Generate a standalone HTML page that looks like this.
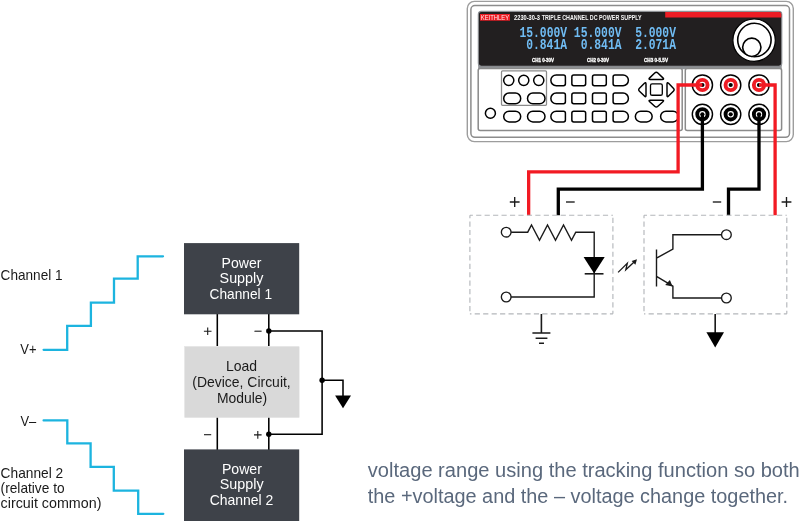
<!DOCTYPE html>
<html lang="en">
<head>
<meta charset="utf-8">
<title>Tracking power supply diagram</title>
<style>
html,body{margin:0;padding:0;background:#fff;}
body{width:800px;height:521px;overflow:hidden;position:relative;font-family:"Liberation Sans",sans-serif;}
svg{position:absolute;left:0;top:0;display:block;will-change:transform;}
text{font-family:"Liberation Sans",sans-serif;}
.mono{font-family:"Liberation Mono",monospace;white-space:pre;}
.btn{fill:#fff;stroke:#000;stroke-width:1.5;}
.ckt{fill:none;stroke:#1a1a1a;stroke-width:1.4;stroke-linejoin:miter;}
.dash{fill:none;stroke:#b4b7bb;stroke-width:1.15;stroke-dasharray:5.2 3.25;}
.wr{fill:none;stroke:#f21a23;stroke-width:3.3;stroke-linejoin:miter;}
.wk{fill:none;stroke:#000;stroke-width:3.3;stroke-linejoin:miter;}
.blk{fill:none;stroke:#000;stroke-width:1.55;}
.stair{fill:none;stroke:#1cb4df;stroke-width:2.3;stroke-linecap:round;stroke-linejoin:miter;}
</style>
</head>
<body>
<svg width="800" height="521" viewBox="0 0 800 521">
<rect x="0" y="0" width="800" height="521" fill="#fff"/>

<!-- ============ INSTRUMENT ============ -->
<g id="instrument">
  <rect x="467.3" y="1.4" width="326" height="140.2" rx="7" ry="7" fill="#fff" stroke="#9d9d9d" stroke-width="1.4"/>
  <rect x="470.9" y="5.6" width="318.6" height="131.7" rx="4" ry="4" fill="#fff" stroke="#8c8c8c" stroke-width="1.5"/>
  <!-- display -->
  <rect x="478.2" y="65" width="303.5" height="4.2" fill="#8e9195"/>
  <rect x="478.3" y="11.4" width="303.5" height="54.8" rx="3" ry="3" fill="#221f20" stroke="#8e9195" stroke-width="1.1"/>
  <path d="M665.2 11.9 H778.8 Q781.3 11.9 781.3 14.4 V17.5 H665.2 Z" fill="#ed1c24"/>
  <rect x="480" y="14" width="30" height="6.7" fill="#ed1c24"/>
  <text x="480.8" y="19.9" font-size="6.9" font-weight="400" fill="#ffe9ea" textLength="28.4" lengthAdjust="spacingAndGlyphs">KEITHLEY</text>
  <text x="514.1" y="19.8" font-size="6.8" font-weight="700" fill="#fff" textLength="25.9" lengthAdjust="spacingAndGlyphs">2230-30-3</text>
  <text x="541.7" y="19.8" font-size="6.8" font-weight="700" fill="#f4f4f4" textLength="100" lengthAdjust="spacingAndGlyphs">TRIPLE CHANNEL DC POWER SUPPLY</text>
  <g class="mono" fill="#70bcf3" font-weight="700">
    <text class="mono" x="519.4" y="37.4" font-size="13.8" textLength="156.6" lengthAdjust="spacingAndGlyphs" xml:space="preserve">15.000V 15.000V  5.000V</text>
    <text class="mono" x="526.2" y="49.3" font-size="13.8" textLength="149.8" lengthAdjust="spacingAndGlyphs" xml:space="preserve">0.841A  0.841A  2.071A</text>
  </g>
  <g font-size="4.9" font-weight="700" fill="#fff" stroke="#fff" stroke-width="0.3">
    <text x="532" y="62.3" textLength="22" lengthAdjust="spacingAndGlyphs">CH1 0-30V</text>
    <text x="587" y="62.3" textLength="22" lengthAdjust="spacingAndGlyphs">CH2 0-30V</text>
    <text x="644" y="62.3" textLength="24" lengthAdjust="spacingAndGlyphs">CH3 0-5.5V</text>
  </g>
  <!-- knob -->
  <circle cx="754.1" cy="40.2" r="21.2" fill="#fff" stroke="#000" stroke-width="1.2"/>
  <circle cx="754.4" cy="40" r="16.7" fill="#fff" stroke="#000" stroke-width="1.6"/>
  <circle cx="751.8" cy="47.3" r="9.15" fill="#fff" stroke="#000" stroke-width="1.6"/>
  <!-- lower panels -->
  <rect x="478.2" y="68.6" width="204" height="61.8" rx="2" ry="2" fill="#fff" stroke="#8a8a8a" stroke-width="1.5"/>
  <rect x="685.3" y="68.6" width="96.3" height="61.8" rx="2" ry="2" fill="#fff" stroke="#8a8a8a" stroke-width="1.5"/>
  <rect x="501.5" y="70.9" width="45" height="34.4" rx="1" ry="1" fill="none" stroke="#8a8a8a" stroke-width="1.25"/>
  <!-- buttons -->
  <circle class="btn" cx="508.75" cy="80.35" r="5.1"/>
  <circle class="btn" cx="523.75" cy="80.35" r="5.1"/>
  <circle class="btn" cx="538.75" cy="80.35" r="5.1"/>
  <rect class="btn" x="503.7" y="93.05" width="17" height="10.7" rx="5.35" ry="5.35"/>
  <rect class="btn" x="527.5" y="93.05" width="17.5" height="10.7" rx="5.35" ry="5.35"/>
  <circle class="btn" cx="490.4" cy="113.2" r="5"/>
  <rect class="btn" x="503.7" y="111.2" width="17" height="10.7" rx="5.35" ry="5.35"/>
  <rect class="btn" x="527.5" y="111.2" width="17.5" height="10.7" rx="5.35" ry="5.35"/>
  <path class="btn" d="M556.2 75 H563.5 Q565.4 75 565.4 76.9 V83.8 Q565.4 85.7 563.5 85.7 H556.2 A5.35 5.35 0 0 1 556.2 75 Z"/>
  <rect class="btn" x="571.85" y="75" width="13.8" height="10.7" rx="1.9" ry="1.9"/>
  <rect class="btn" x="592.5" y="75" width="13.8" height="10.7" rx="1.9" ry="1.9"/>
  <path class="btn" d="M623.05 75 H615 Q613.1 75 613.1 76.9 V83.8 Q613.1 85.7 615 85.7 H623.05 A5.35 5.35 0 0 0 623.05 75 Z"/>
  <path class="btn" d="M556.2 93.05 H563.5 Q565.4 93.05 565.4 94.95 V101.85 Q565.4 103.75 563.5 103.75 H556.2 A5.35 5.35 0 0 1 556.2 93.05 Z"/>
  <rect class="btn" x="571.85" y="93.05" width="13.8" height="10.7" rx="1.9" ry="1.9"/>
  <rect class="btn" x="592.5" y="93.05" width="13.8" height="10.7" rx="1.9" ry="1.9"/>
  <path class="btn" d="M623.05 93.05 H615 Q613.1 93.05 613.1 94.95 V101.85 Q613.1 103.75 615 103.75 H623.05 A5.35 5.35 0 0 0 623.05 93.05 Z"/>
  <path class="btn" d="M556.2 111.2 H563.5 Q565.4 111.2 565.4 113.1 V120 Q565.4 121.9 563.5 121.9 H556.2 A5.35 5.35 0 0 1 556.2 111.2 Z"/>
  <rect class="btn" x="571.85" y="111.2" width="13.8" height="10.7" rx="1.9" ry="1.9"/>
  <rect class="btn" x="592.5" y="111.2" width="13.8" height="10.7" rx="1.9" ry="1.9"/>
  <path class="btn" d="M623.05 111.2 H615 Q613.1 111.2 613.1 113.1 V120 Q613.1 121.9 615 121.9 H623.05 A5.35 5.35 0 0 0 623.05 111.2 Z"/>
  <rect class="btn" x="635.35" y="111.2" width="16.8" height="10.7" rx="5.35" ry="5.35"/>
  <rect class="btn" x="660.6" y="111.2" width="17.8" height="10.7" rx="5.35" ry="5.35"/>
  <rect class="btn" x="650.5" y="83.85" width="11.8" height="11.4" rx="1.6" ry="1.6" style="stroke-width:1.3"/>
  <g class="btn" style="stroke-width:1.45;stroke-linejoin:round">
    <path d="M654.73 72.94 Q656.30 71.40 657.87 72.94 L662.93 77.86 Q664.50 79.40 662.30 79.40 L650.30 79.40 Q648.10 79.40 649.67 77.86 Z"/>
    <path d="M654.69 106.30 Q656.30 107.80 657.91 106.30 L662.89 101.70 Q664.50 100.20 662.30 100.20 L650.30 100.20 Q648.10 100.20 649.71 101.70 Z"/>
    <path d="M639.47 91.24 Q637.90 89.70 639.47 88.16 L644.43 83.34 Q646.00 81.80 646.00 84.00 L646.00 95.40 Q646.00 97.60 644.43 96.06 Z"/>
    <path d="M673.34 91.26 Q674.90 89.70 673.34 88.14 L668.56 83.36 Q667.00 81.80 667.00 84.00 L667.00 95.40 Q667.00 97.60 668.56 96.04 Z"/>
  </g>
  <!-- connectors -->
  <circle cx="702.4" cy="85" r="10.1" fill="#fff" stroke="#000" stroke-width="1.45"/>
  <circle cx="702.4" cy="85" r="5.15" fill="#fff" stroke="#ed1c24" stroke-width="3.9"/>
  <circle cx="702.4" cy="85" r="2.1" fill="#000"/>
  <circle cx="702.4" cy="114.3" r="10.1" fill="#fff" stroke="#000" stroke-width="1.45"/>
  <circle cx="702.4" cy="114.3" r="5.15" fill="#fff" stroke="#000" stroke-width="3.9"/>
  <circle cx="702.4" cy="114.3" r="2.1" fill="#000"/>
  <circle cx="730.7" cy="85" r="10.1" fill="#fff" stroke="#000" stroke-width="1.45"/>
  <circle cx="730.7" cy="85" r="5.15" fill="#fff" stroke="#ed1c24" stroke-width="3.9"/>
  <circle cx="730.7" cy="85" r="2.1" fill="#000"/>
  <circle cx="730.7" cy="114.3" r="10.1" fill="#fff" stroke="#000" stroke-width="1.45"/>
  <circle cx="730.7" cy="114.3" r="5.15" fill="#fff" stroke="#000" stroke-width="3.9"/>
  <circle cx="730.7" cy="114.3" r="2.1" fill="#000"/>
  <circle cx="759.0" cy="85" r="10.1" fill="#fff" stroke="#000" stroke-width="1.45"/>
  <circle cx="759.0" cy="85" r="5.15" fill="#fff" stroke="#ed1c24" stroke-width="3.9"/>
  <circle cx="759.0" cy="85" r="2.1" fill="#000"/>
  <circle cx="759.0" cy="114.3" r="10.1" fill="#fff" stroke="#000" stroke-width="1.45"/>
  <circle cx="759.0" cy="114.3" r="5.15" fill="#fff" stroke="#000" stroke-width="3.9"/>
  <circle cx="759.0" cy="114.3" r="2.1" fill="#000"/>
</g>

<!-- ============ WIRES ============ -->
<g id="wires">
  <path class="wr" d="M702.4 85 H678.1 V171.8 H528.65 V215.3"/>
  <path class="wr" d="M759 85 H775.1 V215.3"/>
  <path class="wk" d="M702.4 114.3 V189.1 H558.3 V215.3"/>
  <path class="wk" d="M759 114.3 V189.1 H728.5 V215.3"/>
</g>
<!-- ============ CIRCUITS ============ -->
<g id="circuits">
  <path class="dash" stroke-dashoffset="2.2" d="M469.9 215.2 H612.9 M469.9 215.2 V313.8 M612.9 313.8 H469.9 M612.9 313.8 V215.2"/>
  <path class="dash" stroke-dashoffset="2.2" d="M644 215.2 H786.8 M644 215.2 V313.8 M786.8 313.8 H644 M786.8 313.8 V215.2"/>
  <!-- plus / minus signs -->
  <g stroke="#1a1a1a" stroke-width="1.35" fill="none">
    <path d="M509.8 202 H519.6 M514.7 197.1 V206.9"/>
    <path d="M566 202 H574.7"/>
    <path d="M712.8 202 H721.2"/>
    <path d="M781.6 202 H791.4 M786.5 197.1 V206.9"/>
  </g>
  <!-- LED side -->
  <path class="ckt" d="M510.6 232.2 H527.7 L531.5 225 L539.5 240.3 L547.5 225 L555.5 240.3 L563.5 225 L571.5 240.3 L575.75 232.2 H594.2 V297 H510.6"/>
  <circle cx="506.2" cy="232.2" r="4.85" fill="#fff" stroke="#1a1a1a" stroke-width="1.35"/>
  <circle cx="506.2" cy="297" r="4.85" fill="#fff" stroke="#1a1a1a" stroke-width="1.35"/>
  <polygon points="583.6,256.9 604.7,256.9 594.15,273.6" fill="#000"/>
  <path class="ckt" d="M584.7 273.8 H603.5" style="stroke-width:1.6"/>
  <!-- ground -->
  <path class="ckt" d="M541.4 314 V333 M532.4 333 H550.4 M535.6 338.3 H547.4 M539 343.3 H544" style="stroke-width:1.6"/>
  <!-- light -->
  <path class="ckt" d="M618.1 272.4 L627.3 263.4 L625.8 269.75 L634.4 261.7" style="stroke-width:1.3"/>
  <polygon points="637,259.3 631.6,261 635.4,264.8" fill="#1a1a1a"/>
  <!-- transistor -->
  <path class="ckt" d="M656.5 249.4 V286.5 M656.5 258.1 L672.9 249.2 V234.7 H722 M656.5 276.3 L672.9 286.2 V298 H722"/>
  <polygon points="672.6,286.4 665.2,284.9 669.9,280.1" fill="#1a1a1a"/>
  <circle cx="726.4" cy="234.7" r="4.85" fill="#fff" stroke="#1a1a1a" stroke-width="1.35"/>
  <circle cx="726.4" cy="298" r="4.85" fill="#fff" stroke="#1a1a1a" stroke-width="1.35"/>
  <!-- arrow down -->
  <path class="ckt" d="M715.2 314 V334" style="stroke-width:1.65"/>
  <polygon points="706.4,332.3 724,332.3 715.2,347.4" fill="#000"/>
</g>
<!-- ============ LEFT BLOCK DIAGRAM ============ -->
<g id="blockdiagram">
  <path class="stair" d="M43.6 349.8 H67.2 V325.9 H90.9 V302.6 H114 V278.7 H137.7 V256.3 H163"/>
  <path class="stair" d="M43.6 420.4 H67.3 V443.4 H90.6 V466.9 H113.8 V490.6 H138.2 V513.8 H163.3"/>
  <g font-size="14.2" fill="#1a1a1a">
    <text x="0.6" y="280.4" textLength="62" lengthAdjust="spacingAndGlyphs">Channel 1</text>
    <text x="20.3" y="353.5" textLength="16.2" lengthAdjust="spacingAndGlyphs">V+</text>
    <text x="20.4" y="426" textLength="15.8" lengthAdjust="spacingAndGlyphs">V–</text>
    <text x="0.6" y="477.9" textLength="62.6" lengthAdjust="spacingAndGlyphs">Channel 2</text>
    <text x="0.6" y="492.9" textLength="64" lengthAdjust="spacingAndGlyphs">(relative to</text>
    <text x="0.6" y="507.9" textLength="100.8" lengthAdjust="spacingAndGlyphs">circuit common)</text>
  </g>
  <!-- connection lines -->
  <path class="blk" d="M217.3 314 V347 M268.8 314 V347 M217.3 417 V450 M268.8 417 V450 M268.8 331 H322.1 V434.3 H268.8 M322.1 380.3 H343 V396"/>
  <circle cx="268.8" cy="331" r="2.7" fill="#000"/>
  <circle cx="268.8" cy="434.3" r="2.7" fill="#000"/>
  <circle cx="322.1" cy="380.3" r="2.7" fill="#000"/>
  <polygon points="335.1,395.6 351,395.6 343,408.3" fill="#000"/>
  <!-- blocks -->
  <rect x="184" y="243.1" width="115.2" height="71.2" fill="#3e4249"/>
  <rect x="184.1" y="346" width="115.2" height="71.6" fill="#e6e6e6"/>
  <rect x="185" y="347" width="114.3" height="70.5" fill="#d9d9d9"/>
  <rect x="184" y="449.4" width="115.2" height="72" fill="#3e4249"/>
  <g font-size="14.4" fill="#fff" text-anchor="middle">
    <text x="241.5" y="267.6" textLength="39.8" lengthAdjust="spacingAndGlyphs">Power</text>
    <text x="241.5" y="283.3" textLength="43.8" lengthAdjust="spacingAndGlyphs">Supply</text>
    <text x="240.8" y="299.1" textLength="62.5" lengthAdjust="spacingAndGlyphs">Channel 1</text>
    <text x="241.9" y="473.5" textLength="40" lengthAdjust="spacingAndGlyphs">Power</text>
    <text x="241.7" y="489.4" textLength="43.8" lengthAdjust="spacingAndGlyphs">Supply</text>
    <text x="241.5" y="505.2" textLength="63.7" lengthAdjust="spacingAndGlyphs">Channel 2</text>
  </g>
  <g font-size="14.4" fill="#1a1a1a" text-anchor="middle">
    <text x="241.6" y="371" textLength="31.1" lengthAdjust="spacingAndGlyphs">Load</text>
    <text x="241.5" y="386.8" textLength="98.5" lengthAdjust="spacingAndGlyphs">(Device, Circuit,</text>
    <text x="242" y="402.5" textLength="50.2" lengthAdjust="spacingAndGlyphs">Module)</text>
  </g>
  <!-- polarity marks -->
  <g stroke="#1a1a1a" stroke-width="1.1" fill="none">
    <path d="M203.9 331.2 H211.5 M207.7 327.4 V335"/>
    <path d="M254.4 331.2 H261.6"/>
    <path d="M204 434.7 H211.2"/>
    <path d="M254 434.9 H261.6 M257.8 431.1 V438.7"/>
  </g>
</g>
<!-- ============ CAPTION ============ -->
<g font-size="20" fill="#5a687c">
  <text x="367.8" y="477.25" textLength="432" lengthAdjust="spacingAndGlyphs">voltage range using the tracking function so both</text>
  <text x="367.8" y="502.55" textLength="420.3" lengthAdjust="spacingAndGlyphs">the +voltage and the – voltage change together.</text>
</g>
</svg>
</body>
</html>
